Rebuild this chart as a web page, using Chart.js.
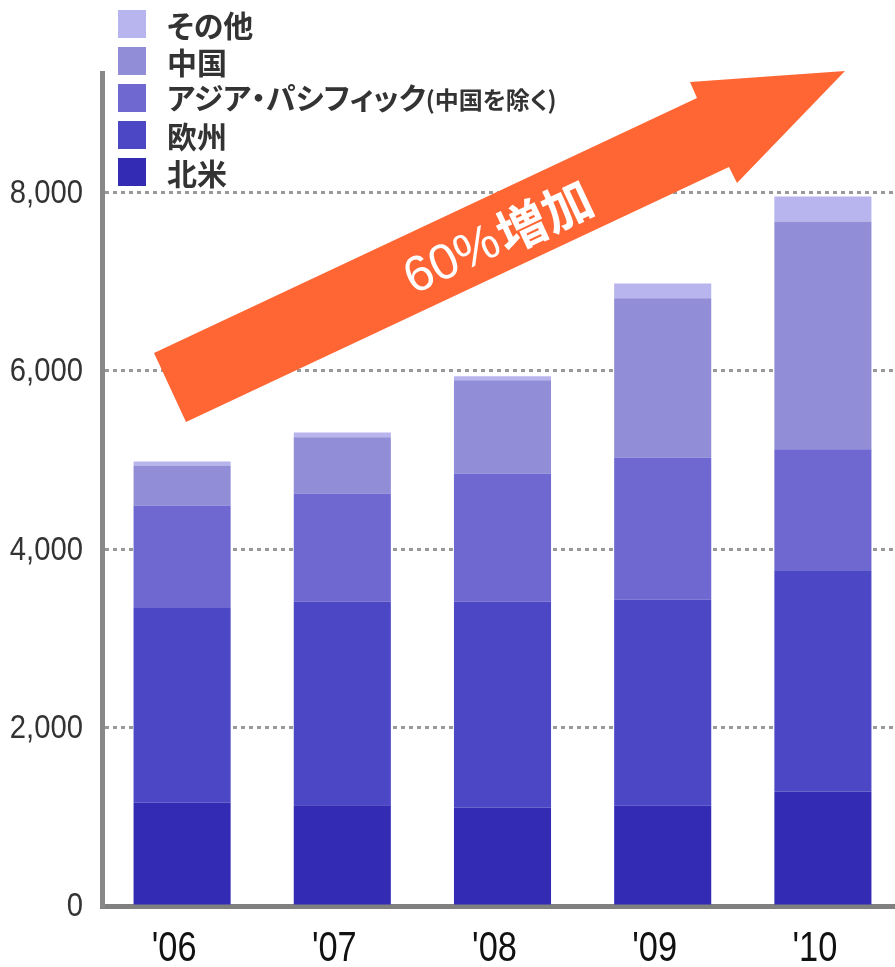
<!DOCTYPE html>
<html>
<head>
<meta charset="utf-8">
<script src="https://cdn.jsdelivr.net/npm/chart.js@4/dist/chart.umd.min.js"></script>
<style>
  html, body { margin: 0; padding: 0; background: #fff; overflow: hidden; }
  #wrap { position: relative; width: 903px; height: 967px; }
  #chart { position: absolute; left: 0; top: 0; }
  #legend { position: absolute; left: 118px; top: 5px; margin: 0; padding: 0; list-style: none;
            font-family: "Noto Sans CJK JP", "Noto Sans", sans-serif; font-weight: 700; color: #333;
            font-feature-settings: "palt"; }
  #legend li { display: flex; align-items: center; height: 37px; }
  #legend .sw { width: 28px; height: 28px; margin-right: 21px; flex: none; }
  #legend .lb { font-size: 30px; line-height: 30px; white-space: nowrap; }
  #legend .sub { font-size: 24px; }
</style>
</head>
<body>
<div id="wrap">
  <canvas id="chart" width="903" height="967"></canvas>
  <ul id="legend"></ul>
</div>
<script>
// Years on the category axis
const years = ["'06", "'07", "'08", "'09", "'10"];

// Regional values (stacked from the bottom)
const northAmerica = [1160, 1130, 1105, 1125, 1285];
const europe       = [2190, 2285, 2310, 2310, 2480];
const asiaPacific  = [1140, 1210, 1435, 1595, 1355];
const china        = [450, 630, 1045, 1785, 2555];
const others       = [45, 55, 45, 165, 280];

// Series names and fill colours
const seriesNames  = ["北米", "欧州", "アジア・パシフィック(中国を除く)", "中国", "その他"];
const seriesColors = ["#332bb4", "#4b47c5", "#6e68d0", "#918dd6", "#b8b4ee"];
const seriesValues = [northAmerica, europe, asiaPacific, china, others];

// Y-axis tick values
const yTicks = [0, 2000, 4000, 6000, 8000];

const callout = "60%増加";

const datasets = seriesValues.map((vals, i) => ({
  label: seriesNames[i],
  data: vals,
  backgroundColor: seriesColors[i],
  borderWidth: 0,
  barPercentage: 0.606,
  categoryPercentage: 1.0
}));

// Custom legend, top series first
const legendEl = document.getElementById('legend');
for (let i = seriesNames.length - 1; i >= 0; i--) {
  const li = document.createElement('li');
  const sw = document.createElement('span');
  sw.className = 'sw';
  sw.style.background = seriesColors[i];
  const lb = document.createElement('span');
  lb.className = 'lb';
  const name = seriesNames[i];
  const p = name.indexOf('(');
  if (p >= 0) {
    lb.appendChild(document.createTextNode(name.slice(0, p)));
    const sub = document.createElement('span');
    sub.className = 'sub';
    sub.textContent = name.slice(p);
    lb.appendChild(sub);
  } else {
    lb.textContent = name;
  }
  li.appendChild(sw);
  li.appendChild(lb);
  legendEl.appendChild(li);
}

// Condensed axis labels, placed through the chart's own scales
const narrowLabels = {
  id: 'narrowLabels',
  afterDraw(chart) {
    const ctx = chart.ctx;
    const xs = chart.scales.x, ys = chart.scales.y;
    ctx.save();
    ctx.textBaseline = 'middle';
    // value axis
    ctx.fillStyle = '#333';
    ctx.font = '34px "Liberation Sans", Arial, sans-serif';
    ctx.textAlign = 'right';
    yTicks.forEach(v => {
      const y = ys.getPixelForValue(v);
      ctx.save();
      ctx.translate(83, y + 1);
      ctx.scale(0.86, 1);
      ctx.fillText(v.toLocaleString('en-US'), 0, 0);
      ctx.restore();
    });
    // category axis
    ctx.fillStyle = '#111';
    ctx.font = '43px "Liberation Sans", Arial, sans-serif';
    ctx.textAlign = 'center';
    years.forEach((lab, i) => {
      const x = xs.getPixelForValue(i);
      ctx.save();
      ctx.translate(x - 8, 949);
      ctx.scale(0.8, 1);
      ctx.fillText(lab, 0, 0);
      ctx.restore();
    });
    ctx.restore();
  }
};

// Big orange growth arrow with its caption
const growthArrow = {
  id: 'growthArrow',
  afterDatasetsDraw(chart) {
    const ctx = chart.ctx;
    ctx.save();
    ctx.fillStyle = '#ff6633';
    ctx.beginPath();
    ctx.moveTo(154, 353);
    ctx.lineTo(697, 98);
    ctx.lineTo(690, 82);
    ctx.lineTo(845, 71);
    ctx.lineTo(737, 183);
    ctx.lineTo(729, 167);
    ctx.lineTo(186, 422);
    ctx.closePath();
    ctx.fill();

    const angle = Math.atan2(98 - 353, 697 - 154);
    ctx.translate(497, 238);
    ctx.rotate(angle);
    ctx.fillStyle = '#ffffff';
    ctx.textBaseline = 'middle';
    ctx.textAlign = 'left';
    const numPart = callout.slice(0, 3);
    const kanjiPart = callout.slice(3);
    const f1 = '400 50px "Liberation Sans", Arial, sans-serif';
    const f2 = '700 50px "Noto Sans CJK JP", sans-serif';
    ctx.font = f1;
    const w1 = ctx.measureText(numPart).width;
    ctx.font = f2;
    const w2 = ctx.measureText(kanjiPart).width;
    const x0 = -(w1 + w2) / 2;
    ctx.font = f1;
    ctx.fillText(numPart, x0, 2);
    ctx.font = f2;
    ctx.fillText(kanjiPart, x0 + w1 + 2, 0);
    ctx.restore();
  }
};

new Chart(document.getElementById('chart'), {
  type: 'bar',
  data: { labels: years, datasets },
  plugins: [growthArrow, narrowLabels],
  options: {
    responsive: false,
    animation: false,
    layout: { padding: { top: 73, left: 0, right: 0, bottom: 0 } },
    plugins: { legend: { display: false }, tooltip: { enabled: false }, title: { display: false } },
    scales: {
      x: {
        stacked: true,
        grid: { display: false, drawTicks: false },
        border: { display: true, color: '#808080', width: 5 },
        ticks: { display: false },
        afterFit(scale) { scale.height = 61; }
      },
      y: {
        stacked: true,
        min: 0,
        max: 9340,
        afterBuildTicks(scale) { scale.ticks = yTicks.map(v => ({ value: v })); },
        grid: {
          drawTicks: false,
          color: ctx => (ctx.tick && ctx.tick.value === 0) ? 'rgba(0,0,0,0)' : '#999999',
          lineWidth: 3
        },
        border: { display: true, color: '#888888', width: 5, dash: [4, 4] },
        ticks: { display: false },
        afterFit(scale) { scale.width = 102; }
      }
    }
  }
});
</script>
</body>
</html>
